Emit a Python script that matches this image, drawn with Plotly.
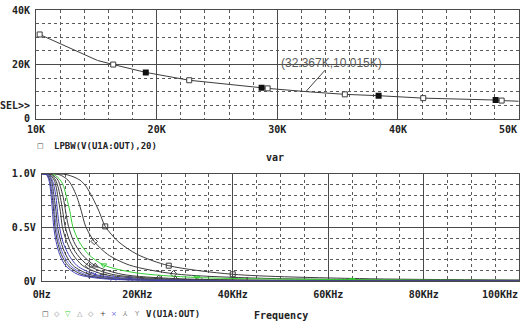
import plotly.graph_objects as go

W, H = 521, 329

# ---------------- data: top plot (performance analysis) ----------------
top_var = [10.3, 13.0, 15.1, 16.4, 19.1, 22.7, 28.7, 29.2, 32.367, 35.6, 38.4, 42.1, 48.1, 48.6, 50.3]
top_bw = [31.1, 25.8, 21.5, 20.0, 17.1, 14.2, 11.4, 11.2, 10.015, 9.0, 8.5, 7.6, 6.9, 6.7, 6.4]
top_open_idx = [0, 3, 5, 7, 9, 11, 13]
top_filled_idx = [4, 6, 10, 12]
top_xticks = [10, 20, 30, 40]
top_xticktext = ["10K", "20K", "30K", "40K"]
top_yticks = [0, 20, 40]
top_yticktext = ["0", "20K", "40K"]
cursor_x, cursor_y = 32.367, 10.015

# ---------------- data: bottom plot (frequency responses, KHz / V) ----------------
fA = [0, 5.3, 8.0, 9.3, 10.6, 12.0, 13.3, 16.0, 20.0, 26.6, 40.0, 66.5, 100]
vA = [1.0, 0.99, 0.94, 0.88, 0.78, 0.65, 0.51, 0.37, 0.25, 0.145, 0.065, 0.025, 0.012]
fB = [0, 3.7, 5.5, 6.4, 7.4, 8.3, 9.2, 11.0, 13.8, 18.4, 27.6, 46, 92, 100]
vB = [1.0, 0.99, 0.94, 0.88, 0.78, 0.65, 0.51, 0.37, 0.25, 0.15, 0.07, 0.028, 0.008, 0.007]
fC = [0, 2.6, 3.9, 4.6, 5.2, 5.9, 6.5, 7.8, 9.8, 13.0, 19.5, 32.5, 65, 100]
vC = [1.0, 0.99, 0.94, 0.88, 0.78, 0.65, 0.51, 0.37, 0.25, 0.15, 0.08, 0.035, 0.015, 0.008]
fD = [0, 2.2, 3.4, 3.9, 4.5, 5.0, 5.6, 6.7, 8.4, 11.2, 16.8, 28, 56, 100]
vD = [1.0, 0.99, 0.94, 0.88, 0.78, 0.65, 0.51, 0.37, 0.25, 0.145, 0.065, 0.025, 0.007, 0.003]
fE = [0, 2.0, 2.9, 3.4, 3.9, 4.4, 4.9, 5.9, 7.4, 9.8, 14.7, 24.5, 49, 100]
vE = [1.0, 0.99, 0.94, 0.88, 0.78, 0.65, 0.51, 0.37, 0.25, 0.145, 0.065, 0.025, 0.007, 0.002]
fF = [0, 1.7, 2.6, 3.0, 3.4, 3.9, 4.3, 5.2, 6.5, 8.6, 12.9, 21.5, 43, 100]
vF = [1.0, 0.99, 0.94, 0.88, 0.78, 0.65, 0.51, 0.37, 0.25, 0.145, 0.065, 0.025, 0.007, 0.002]
fG = [0, 1.5, 2.2, 2.6, 3.0, 3.3, 3.7, 4.4, 5.6, 7.4, 11.1, 18.5, 37, 100]
vG = [1.0, 0.99, 0.94, 0.88, 0.78, 0.65, 0.51, 0.37, 0.25, 0.145, 0.065, 0.025, 0.007, 0.001]
fH = [0, 1.3, 2.0, 2.3, 2.6, 3.0, 3.3, 4.0, 5.0, 6.6, 9.9, 16.5, 33, 100]
vH = [1.0, 0.99, 0.94, 0.88, 0.78, 0.65, 0.51, 0.37, 0.25, 0.145, 0.065, 0.025, 0.007, 0.001]
fI = [0, 1.2, 1.8, 2.1, 2.4, 2.7, 3.0, 3.6, 4.5, 6.0, 9.0, 15, 30, 100]
vI = [1.0, 0.99, 0.94, 0.88, 0.78, 0.65, 0.51, 0.37, 0.25, 0.145, 0.065, 0.025, 0.007, 0.001]
fJ = [0, 1.1, 1.65, 1.9, 2.2, 2.5, 2.75, 3.3, 4.1, 5.5, 8.3, 13.8, 27.5, 100]
vJ = [1.0, 0.99, 0.94, 0.88, 0.78, 0.65, 0.51, 0.37, 0.25, 0.145, 0.065, 0.025, 0.007, 0.001]
fK = [0, 1.0, 1.5, 1.75, 2.0, 2.25, 2.5, 3.0, 3.75, 5.0, 7.5, 12.5, 25, 100]
vK = [1.0, 0.99, 0.94, 0.88, 0.78, 0.65, 0.51, 0.37, 0.25, 0.145, 0.065, 0.025, 0.007, 0.001]

bot_xticks = [0, 20, 40, 60, 80]
bot_xticktext = ["0Hz", "20KHz", "40KHz", "60KHz", "80KHz"]
bot_yticks = [0, 0.5, 1.0]
bot_yticktext = ["0V", "0.5V", "1.0V"]

DARK = "#3c3c3c"
GREEN = "#33cc33"
BLUE1 = "#4444bb"
BLUE2 = "#6a6ad8"
GRAY = "#8a8a8a"

curves = [
    (fA, vA, DARK, "square-open", [6, 9, 10]),
    (fB, vB, DARK, "diamond-open", [7, 10]),
    (fC, vC, GREEN, "triangle-down-open", [9, 11, 12]),
    (fD, vD, DARK, "triangle-up-open", [9, 11]),
    (fE, vE, DARK, "diamond-open", [9, 11]),
    (fF, vF, DARK, "cross-thin-open", [10, 12]),
    (fG, vG, BLUE1, "x-thin-open", [10, 11]),
    (fH, vH, DARK, "y-down-open", [10, 12]),
    (fI, vI, BLUE2, "y-up-open", [11]),
    (fJ, vJ, DARK, None, []),
    (fK, vK, BLUE1, None, []),
]

fig = go.Figure()

# ---- top plot ----
fig.add_trace(go.Scatter(x=top_var, y=top_bw, mode="lines", xaxis="x", yaxis="y",
                         line=dict(color=DARK, width=1), showlegend=False, hoverinfo="skip"))
fig.add_trace(go.Scatter(x=[top_var[i] for i in top_open_idx], y=[top_bw[i] for i in top_open_idx],
                         mode="markers", xaxis="x", yaxis="y",
                         marker=dict(symbol="square", size=5, color="white", line=dict(color=DARK, width=1)),
                         showlegend=False))
fig.add_trace(go.Scatter(x=[top_var[i] for i in top_filled_idx], y=[top_bw[i] for i in top_filled_idx],
                         mode="markers", xaxis="x", yaxis="y",
                         marker=dict(symbol="square", size=6, color="#111111"),
                         showlegend=False))

# ---- bottom plot ----
for f, v, col, sym, midx in curves:
    fig.add_trace(go.Scatter(x=f, y=v, mode="lines", xaxis="x2", yaxis="y2",
                             line=dict(color=col, width=1, shape="spline", smoothing=0.8),
                             showlegend=False, hoverinfo="skip"))
    if sym and midx:
        fig.add_trace(go.Scatter(x=[f[i] for i in midx], y=[v[i] for i in midx], mode="markers",
                                 xaxis="x2", yaxis="y2",
                                 marker=dict(symbol=sym, size=5, color=col, line=dict(color=col, width=1)),
                                 showlegend=False))

TICKFONT = dict(family="DejaVu Sans Mono", size=10, color="#222222", weight="bold")
GRIDC = "#4a4a4a"
MINORC = "#5a5a5a"

def px_x(p):
    return p / W

def px_y(p):
    return 1 - p / H

common_axis = dict(showline=True, mirror=True, linecolor=GRIDC, linewidth=1, zeroline=False,
                   showgrid=True, gridcolor=GRIDC, gridwidth=1, tickfont=TICKFONT,
                   ticks="outside", tickcolor="rgba(0,0,0,0)", fixedrange=True)

fig.update_layout(
    width=W, height=H, margin=dict(l=0, r=0, t=0, b=0),
    paper_bgcolor="white", plot_bgcolor="white", showlegend=False,
    xaxis=dict(domain=[px_x(27.5), px_x(518.5)], range=[10, 50], anchor="y",
               tickmode="array", tickvals=top_xticks, ticktext=top_xticktext, ticklen=1,
               minor=dict(dtick=2, tick0=0, showgrid=True, griddash="dot", gridcolor=MINORC, gridwidth=1),
               **common_axis),
    yaxis=dict(domain=[px_y(117), px_y(4.5)], range=[0, 40], anchor="x",
               tickmode="array", tickvals=top_yticks, ticktext=top_yticktext, ticklen=3,
               minor=dict(dtick=5, tick0=0, showgrid=True, griddash="dot", gridcolor=MINORC, gridwidth=1),
               **common_axis),
    xaxis2=dict(domain=[px_x(33.3), px_x(519.3)], range=[0, 100], anchor="y2",
                tickmode="array", tickvals=bot_xticks, ticktext=bot_xticktext, ticklen=4,
                minor=dict(dtick=5, tick0=0, showgrid=True, griddash="dot", gridcolor=MINORC, gridwidth=1),
                **common_axis),
    yaxis2=dict(domain=[px_y(285.7), px_y(174)], range=[0, 1.0], anchor="x2",
                tickmode="array", tickvals=bot_yticks, ticktext=bot_yticktext, ticklen=3,
                minor=dict(dtick=0.1, tick0=0, showgrid=True, griddash="dot", gridcolor=MINORC, gridwidth=1),
                **common_axis),
)

LBL = dict(family="DejaVu Sans Mono", size=10, color="#222222", weight="bold")
LEG = dict(family="DejaVu Sans Mono", size=9, color="#222222", weight="bold")

ann = []
# right-aligned end tick labels (clipped by window in original)
ann.append(dict(text="50K", x=px_x(519), y=px_y(128), xref="paper", yref="paper",
                xanchor="right", yanchor="middle", showarrow=False, font=LBL))
ann.append(dict(text="100KHz", x=px_x(520), y=px_y(299), xref="paper", yref="paper",
                xanchor="right", yanchor="middle", showarrow=False, font=LBL))
# selection marker
ann.append(dict(text="SEL>>", x=px_x(23.5), y=px_y(103), xref="paper", yref="paper",
                xanchor="right", yanchor="middle", showarrow=False, font=LBL))
# axis titles
ann.append(dict(text="var", x=px_x(271), y=px_y(157), xref="paper", yref="paper",
                xanchor="center", yanchor="middle", showarrow=False, font=LBL))
ann.append(dict(text="Frequency", x=px_x(277), y=0, xref="paper", yref="paper",
                xanchor="center", yanchor="bottom", showarrow=False, font=LBL))
# top legend
ann.append(dict(text="□", x=px_x(32.5), y=px_y(145), xref="paper", yref="paper",
                xanchor="center", yanchor="middle", showarrow=False,
                font=dict(family="DejaVu Sans", size=7, color=DARK)))
ann.append(dict(text="LPBW(V(U1A:OUT),20)", x=px_x(43.5), y=px_y(145), xref="paper", yref="paper",
                xanchor="left", yanchor="middle", showarrow=False, font=LEG))
# bottom legend
leg_syms = [("□", DARK), ("◇", GRAY), ("▽", GREEN), ("△", GRAY), ("◇", GRAY),
            ("+", DARK), ("×", BLUE2), ("⅄", GRAY), ("Y", GRAY)]
for i, (s, c) in enumerate(leg_syms):
    ann.append(dict(text=s, x=px_x(37.3 + 11.6 * i), y=px_y(320), xref="paper", yref="paper",
                    xanchor="center", yanchor="middle", showarrow=False,
                    font=dict(family="DejaVu Sans", size=7, color=c)))
ann.append(dict(text="V(U1A:OUT)", x=px_x(137.5), y=px_y(320), xref="paper", yref="paper",
                xanchor="left", yanchor="middle", showarrow=False, font=LEG))
# cursor label
ann.append(dict(text="(32.367K,10.015K)", x=cursor_x, y=cursor_y, xref="x", yref="y",
                ax=26, ay=-29, showarrow=True, arrowhead=0, arrowwidth=1, arrowcolor="#444444",
                borderpad=0, font=dict(family="Liberation Sans", size=12, color="#5a5a5a")))

fig.update_layout(annotations=ann)
fig.write_html("out.html")
